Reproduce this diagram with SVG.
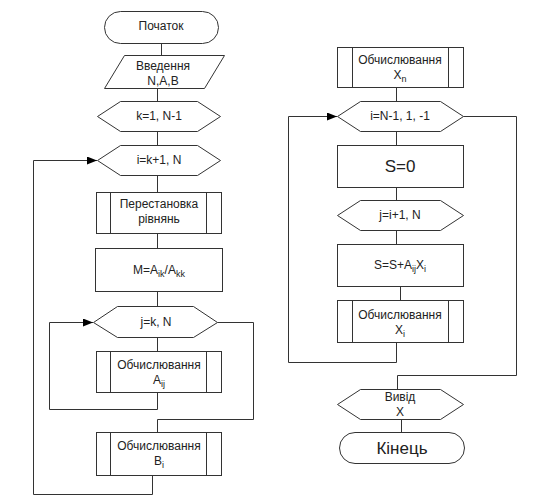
<svg xmlns="http://www.w3.org/2000/svg" width="536" height="500" viewBox="0 0 536 500">
<style>
.s{fill:#fff;stroke:#333;stroke-width:1}
.c{fill:none;stroke:#333;stroke-width:1}
text{font-family:"Liberation Sans",Arial,sans-serif;font-size:12px;fill:#222;text-anchor:middle}
.sub{font-size:9px;fill:#222}
.big{font-size:17px}
</style>
<defs>
<marker id="arr" markerUnits="userSpaceOnUse" markerWidth="11" markerHeight="9" refX="10" refY="4" orient="auto">
<path d="M0,0 L10,4 L0,8 z" fill="#000"/>
</marker>
</defs>
<rect width="536" height="500" fill="#fff"/>
<g id="connectors">
<path class="c" d="M161.5,43.5 V55.5"/>
<path class="c" d="M157.5,88.5 V101.5"/>
<path class="c" d="M157.5,131.5 V145.5"/>
<path class="c" d="M157.5,175.5 V192.5"/>
<path class="c" d="M157.5,233.5 V248.5"/>
<path class="c" d="M157.5,291.5 V306.5"/>
<path class="c" d="M157.5,337.5 V351.5"/>
<path class="c" d="M157.5,392.5 V409.5 H49.5 V322.5 H93" marker-end="url(#arr)"/>
<path class="c" d="M217.5,322.5 H253.5 V419.5 H157.5 V432.5"/>
<path class="c" d="M152.5,475.5 V494.5 H33.5 V160.5 H97" marker-end="url(#arr)"/>
<path class="c" d="M396.5,87.5 V101.5"/>
<path class="c" d="M396.5,131.5 V145.5"/>
<path class="c" d="M396.5,187.5 V200.5"/>
<path class="c" d="M396.5,230.5 V244.5"/>
<path class="c" d="M400.5,286.5 V300.5"/>
<path class="c" d="M396.5,342.5 V362.5 H288.5 V116.5 H337" marker-end="url(#arr)"/>
<path class="c" d="M463.5,116.5 H516.5 V375.5 H397.5 V389.5"/>
<path class="c" d="M401.5,419.5 V432.5"/>
</g>
<g id="start">
<rect class="s" x="104.5" y="11.5" width="114" height="32" rx="16"/>
<text x="161" y="30">Початок</text>
</g>
<g id="input">
<polygon class="s" points="124.5,55.5 224.5,55.5 204.5,88.5 104.5,88.5"/>
<text x="163" y="70">Введення</text>
<text x="163" y="85">N,A,B</text>
</g>
<g id="loop-k">
<polygon class="s" points="97.5,116.5 120.5,101.5 197.5,101.5 220.5,116.5 197.5,131.5 120.5,131.5"/>
<text x="159" y="120">k=1, N-1</text>
</g>
<g id="loop-i">
<polygon class="s" points="97.5,160.5 120.5,145.5 197.5,145.5 220.5,160.5 197.5,175.5 120.5,175.5"/>
<text x="159" y="164">i=k+1, N</text>
</g>
<g id="swap">
<rect class="s" x="96.5" y="192.5" width="125" height="41"/>
<path class="c" d="M110.5,192.5 V233.5 M206.5,192.5 V233.5"/>
<text x="159" y="208">Перестановка</text>
<text x="159" y="223">рівнянь</text>
</g>
<g id="m">
<rect class="s" x="95.5" y="248.5" width="127" height="43"/>
<text x="159" y="274">M=A<tspan class="sub" dy="3">ik</tspan><tspan dy="-3">/A</tspan><tspan class="sub" dy="3">kk</tspan></text>
</g>
<g id="loop-j">
<polygon class="s" points="93.5,322.5 117.5,306.5 193.5,306.5 217.5,322.5 193.5,337.5 117.5,337.5"/>
<text x="156" y="326">j=k, N</text>
</g>
<g id="calc-a">
<rect class="s" x="96.5" y="351.5" width="125" height="41"/>
<path class="c" d="M110.5,351.5 V392.5 M206.5,351.5 V392.5"/>
<text x="159" y="369">Обчислювання</text>
<text x="159" y="384">A<tspan class="sub" dy="3">ij</tspan></text>
</g>
<g id="calc-b">
<rect class="s" x="96.5" y="432.5" width="125" height="43"/>
<path class="c" d="M110.5,432.5 V475.5 M206.5,432.5 V475.5"/>
<text x="159" y="450">Обчислювання</text>
<text x="159" y="465">B<tspan class="sub" dy="3">i</tspan></text>
</g>
<g id="calc-xn">
<rect class="s" x="337.5" y="47.5" width="126" height="40"/>
<path class="c" d="M352.5,47.5 V87.5 M448.5,47.5 V87.5"/>
<text x="400" y="64">Обчислювання</text>
<text x="400" y="79">X<tspan class="sub" dy="3">n</tspan></text>
</g>
<g id="loop-i2">
<polygon class="s" points="337.5,116.5 360.5,101.5 440.5,101.5 463.5,116.5 440.5,131.5 360.5,131.5"/>
<text x="400" y="120">i=N-1, 1, -1</text>
</g>
<g id="s0">
<rect class="s" x="337.5" y="145.5" width="126" height="42"/>
<text class="big" x="400" y="172">S=0</text>
</g>
<g id="loop-j2">
<polygon class="s" points="337.5,215.5 360.5,200.5 440.5,200.5 463.5,215.5 440.5,230.5 360.5,230.5"/>
<text x="400" y="219">j=i+1, N</text>
</g>
<g id="sum">
<rect class="s" x="337.5" y="244.5" width="126" height="42"/>
<text x="400" y="269">S=S+A<tspan class="sub" dy="3">ij</tspan><tspan dy="-3">X</tspan><tspan class="sub" dy="3">i</tspan></text>
</g>
<g id="calc-xi">
<rect class="s" x="337.5" y="300.5" width="126" height="42"/>
<path class="c" d="M352.5,300.5 V342.5 M448.5,300.5 V342.5"/>
<text x="400" y="319">Обчислювання</text>
<text x="400" y="334">X<tspan class="sub" dy="3">i</tspan></text>
</g>
<g id="output">
<polygon class="s" points="337.5,404.5 360.5,389.5 440.5,389.5 463.5,404.5 440.5,419.5 360.5,419.5"/>
<text x="400" y="401">Вивід</text>
<text x="400" y="416">X</text>
</g>
<g id="end">
<rect class="s" x="339.5" y="432.5" width="125" height="31" rx="15.5"/>
<text class="big" x="402" y="454">Кінець</text>
</g>
</svg>
